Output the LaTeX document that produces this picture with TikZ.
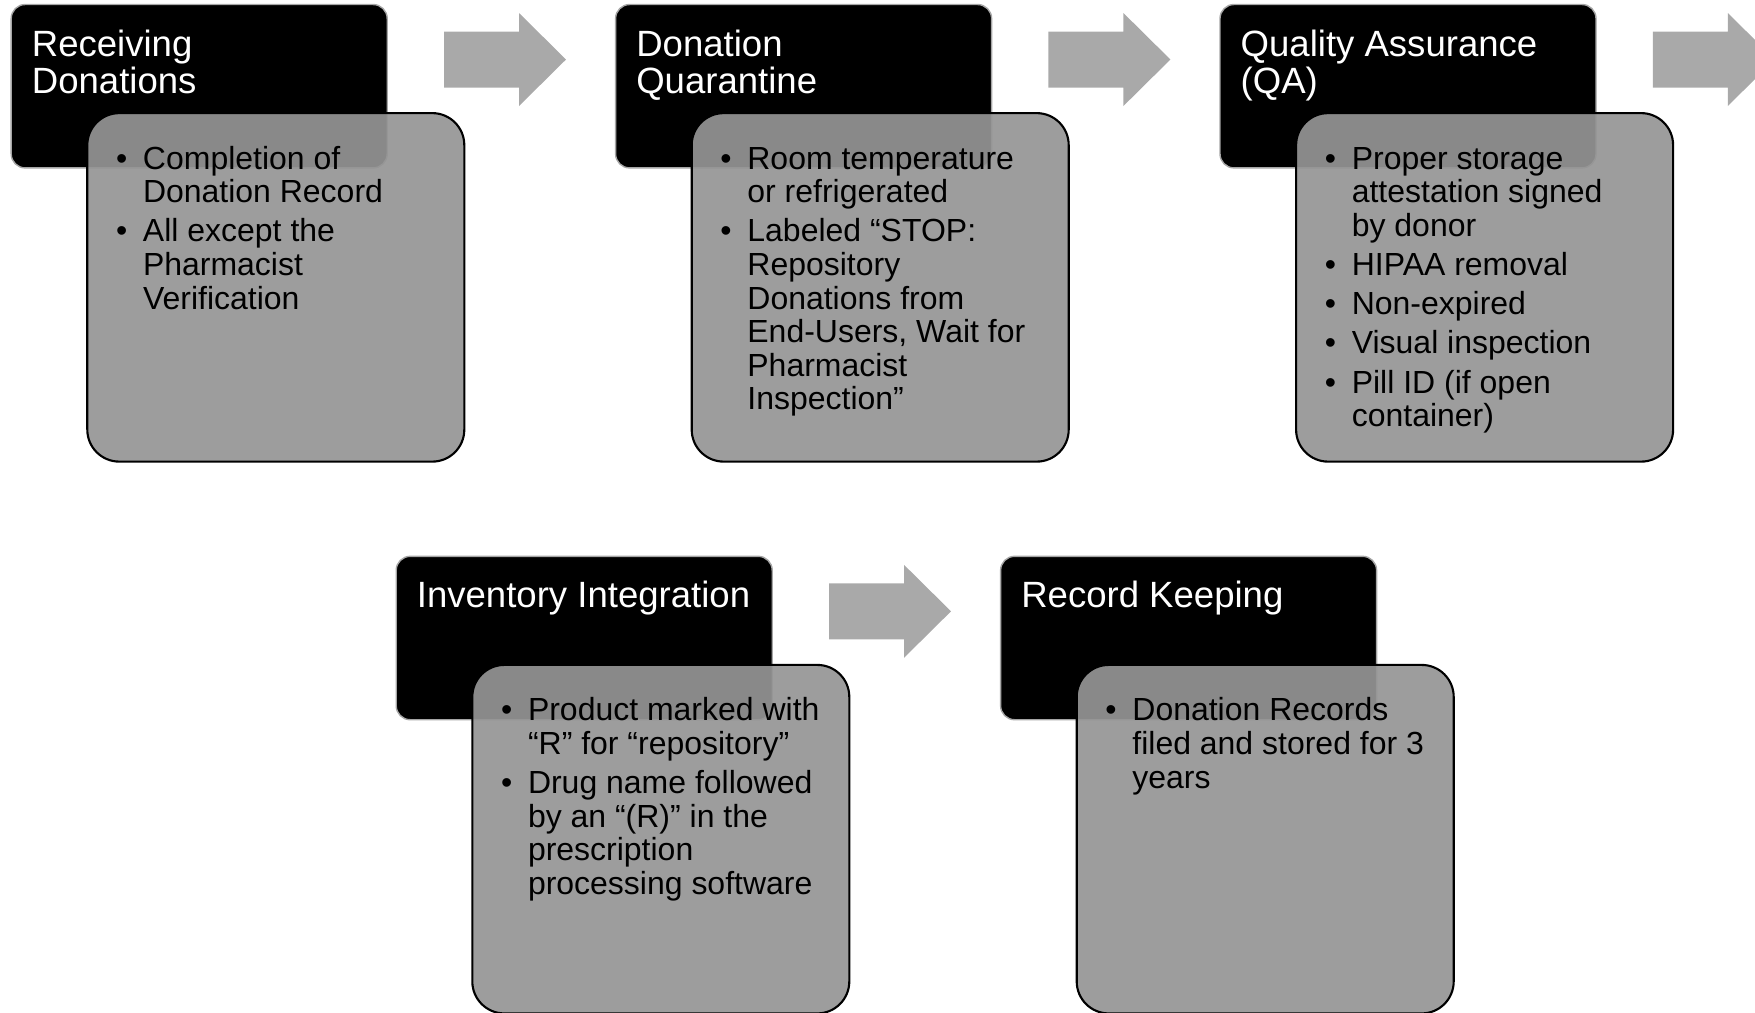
\documentclass[tikz,border=0pt]{standalone}
\usepackage{fontspec}
\setmainfont{Liberation Sans}
\usetikzlibrary{positioning}

\definecolor{notegray}{gray}{0.584}
\definecolor{flowgray}{gray}{0.663}

\tikzset{
	stage/.style={draw=black!35, line width=0.4pt, fill=black, rounded corners=0.14cm,
		minimum width=3.76cm, minimum height=1.634cm, inner sep=0pt, outer sep=0pt, anchor=north west},
	notes/.style={draw=black, line width=0.6pt, fill=notegray, fill opacity=0.92, rounded corners=0.32cm,
		minimum width=3.77cm, minimum height=3.485cm, inner sep=0pt, outer sep=0pt},
	stagetitle/.style={text=white, inner sep=0pt, anchor=base west, font=\fontsize{10.4}{10.8}\selectfont},
	notetext/.style={text=black, inner sep=0pt, anchor=base west, font=\fontsize{9.1}{9.56}\selectfont},
	flow/.style={fill=flowgray}
}

\begin{document}
\begin{tikzpicture}
		\useasboundingbox (0,0) rectangle (17.55,-10.12);
		% receiving
		\node[stage] (rcv) at (0.112,-0.045) {};
		\node[stagetitle] (rcvtitle) at ([shift={(0.20,-0.515)}]rcv.north west) {\begin{tabular}[t]{@{}l@{}}Receiving\\Donations\end{tabular}};
		\node[notes, below right=1.086cm and 0.761cm of rcv.north west] (rcvnotes) {};
		\node[notetext] (rcvlist) at ([shift={(0.28,-0.56)}]rcvnotes.north west) {\begin{tabular}[t]{@{}p{0.27cm}@{}l@{}}
			\textbullet & Completion of\\ & Donation Record\\[1.6pt]
			\textbullet & All except the\\ & Pharmacist\\ & Verification\end{tabular}};
		% quarantine
		\node[stage] (qrt) at (6.156,-0.045) {};
		\node[stagetitle] (qrttitle) at ([shift={(0.20,-0.515)}]qrt.north west) {\begin{tabular}[t]{@{}l@{}}Donation\\Quarantine\end{tabular}};
		\node[notes, below right=1.086cm and 0.761cm of qrt.north west] (qrtnotes) {};
		\node[notetext] (qrtlist) at ([shift={(0.28,-0.56)}]qrtnotes.north west) {\begin{tabular}[t]{@{}p{0.27cm}@{}l@{}}
			\textbullet & Room temperature\\ & or refrigerated\\[1.6pt]
			\textbullet & Labeled “STOP:\\ & Repository\\ & Donations from\\ & End-Users, Wait for\\ & Pharmacist\\ & Inspection”\end{tabular}};
		% quality assurance
		\node[stage] (qa) at (12.200,-0.045) {};
		\node[stagetitle] (qatitle) at ([shift={(0.20,-0.515)}]qa.north west) {\begin{tabular}[t]{@{}l@{}}Quality Assurance\\(QA)\end{tabular}};
		\node[notes, below right=1.086cm and 0.761cm of qa.north west] (qanotes) {};
		\node[notetext] (qalist) at ([shift={(0.28,-0.56)}]qanotes.north west) {\begin{tabular}[t]{@{}p{0.27cm}@{}l@{}}
			\textbullet & Proper storage\\ & attestation signed\\ & by donor\\[1.6pt]
			\textbullet & HIPAA removal\\[1.6pt]
			\textbullet & Non-expired\\[1.6pt]
			\textbullet & Visual inspection\\[1.6pt]
			\textbullet & Pill ID (if open\\ & container)\end{tabular}};
		% inventory
		\node[stage] (inv) at (3.962,-5.563) {};
		\node[stagetitle] (invtitle) at ([shift={(0.20,-0.515)}]inv.north west) {Inventory Integration};
		\node[notes, below right=1.086cm and 0.761cm of inv.north west] (invnotes) {};
		\node[notetext] (invlist) at ([shift={(0.28,-0.56)}]invnotes.north west) {\begin{tabular}[t]{@{}p{0.27cm}@{}l@{}}
			\textbullet & Product marked with\\ & “R” for “repository”\\[1.6pt]
			\textbullet & Drug name followed\\ & by an “(R)” in the\\ & prescription\\ & processing software\end{tabular}};
		% records
		\node[stage] (rec) at (10.006,-5.563) {};
		\node[stagetitle] (rectitle) at ([shift={(0.20,-0.515)}]rec.north west) {Record Keeping};
		\node[notes, below right=1.086cm and 0.761cm of rec.north west] (recnotes) {};
		\node[notetext] (reclist) at ([shift={(0.28,-0.56)}]recnotes.north west) {\begin{tabular}[t]{@{}p{0.27cm}@{}l@{}}
			\textbullet & Donation Records\\ & filed and stored for 3\\ & years\end{tabular}};
		% arrows
		\fill[flow] (4.44,-0.315) -- (5.19,-0.315) -- (5.19,-0.13) -- (5.66,-0.595) -- (5.19,-1.06) -- (5.19,-0.875) -- (4.44,-0.875) -- cycle;
		\fill[flow] (10.484,-0.315) -- (11.234,-0.315) -- (11.234,-0.13) -- (11.704,-0.595) -- (11.234,-1.06) -- (11.234,-0.875) -- (10.484,-0.875) -- cycle;
		\fill[flow] (16.528,-0.315) -- (17.278,-0.315) -- (17.278,-0.13) -- (17.748,-0.595) -- (17.278,-1.06) -- (17.278,-0.875) -- (16.528,-0.875) -- cycle;
		\fill[flow] (8.29,-5.833) -- (9.04,-5.833) -- (9.04,-5.648) -- (9.51,-6.113) -- (9.04,-6.578) -- (9.04,-6.393) -- (8.29,-6.393) -- cycle;
	\end{tikzpicture}
\end{document}
